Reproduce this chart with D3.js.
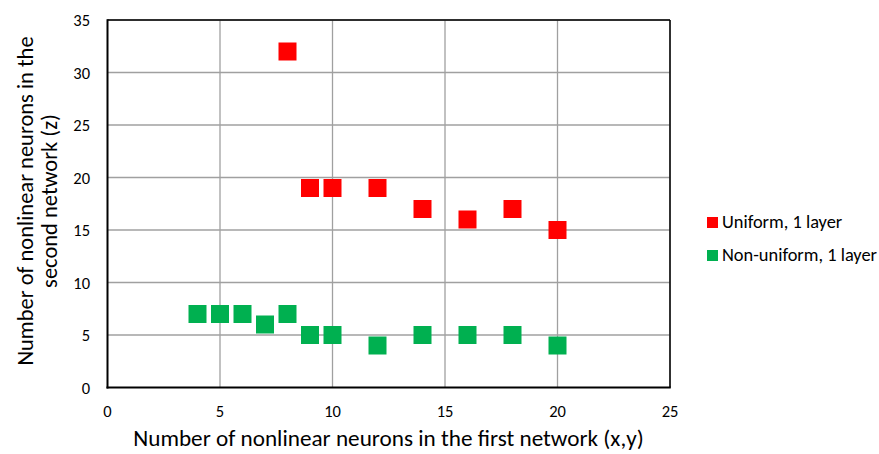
<!DOCTYPE html>
<html><head><meta charset="utf-8">
<script src="https://cdn.jsdelivr.net/npm/d3@7"></script>
<style>body{margin:0;background:#fff}svg{display:block}text{font-family:Carlito,Calibri,Lato,sans-serif;fill:#000}</style>
</head><body>
<script>
const uniformX=[8,9,10,12,14,16,18,20];
const uniformY=[32,19,19,19,17,16,17,15];
const nonUniformX=[4,5,6,7,8,9,10,12,14,16,18,20];
const nonUniformY=[7,7,7,6,7,5,5,4,5,5,5,4];
const xTicks=[0,5,10,15,20,25];
const yTicks=[0,5,10,15,20,25,30,35];
const seriesNames=["Uniform, 1 layer","Non-uniform, 1 layer"];
const colors=["#ff0000","#00b050"];

const W=879,H=454;
const svg=d3.select("body").append("svg").attr("width",W).attr("height",H);
const x=d3.scaleLinear().domain([0,25]).range([107.5,670]);
const y=d3.scaleLinear().domain([0,35]).range([387.5,20]);

const g=svg.append("g");
g.selectAll(".vg").data(xTicks.slice(1)).join("line")
 .attr("x1",d=>x(d)).attr("x2",d=>x(d)).attr("y1",y(35)).attr("y2",y(0))
 .attr("stroke","#a0a0a0").attr("stroke-width",1.3);
g.selectAll(".hg").data(yTicks.slice(1)).join("line")
 .attr("x1",x(0)).attr("x2",x(25)).attr("y1",d=>y(d)).attr("y2",d=>y(d))
 .attr("stroke","#a0a0a0").attr("stroke-width",1.3);
g.append("line").attr("x1",x(0)).attr("x2",x(25)).attr("y1",y(35)).attr("y2",y(35)).attr("stroke","#000").attr("stroke-width",1.5);
g.append("line").attr("x1",x(25)).attr("x2",x(25)).attr("y1",y(35)).attr("y2",y(0)).attr("stroke","#000").attr("stroke-width",1.5);
g.append("line").attr("x1",x(0)).attr("x2",x(0)).attr("y1",y(35)-0.75).attr("y2",y(0)+1).attr("stroke","#000").attr("stroke-width",2);
g.append("line").attr("x1",x(0)-1).attr("x2",x(25)+0.75).attr("y1",y(0)).attr("y2",y(0)).attr("stroke","#000").attr("stroke-width",2);

svg.selectAll(".xt").data(xTicks).join("text")
 .attr("x",d=>x(d)).attr("y",417).attr("text-anchor","middle").attr("font-size",16.5).text(d=>d);
svg.selectAll(".yt").data(yTicks).join("text")
 .attr("x",90).attr("y",d=>y(d)+6).attr("text-anchor","end").attr("font-size",16.5).text(d=>d);

const s=18;
const draw=(xs,ys,c)=>svg.append("g").selectAll("rect").data(xs.map((d,i)=>[d,ys[i]])).join("rect")
 .attr("x",d=>x(d[0])-s/2).attr("y",d=>y(d[1])-s/2).attr("width",s).attr("height",s)
 .attr("fill",c);
draw(uniformX,uniformY,colors[0]);
draw(nonUniformX,nonUniformY,colors[1]);

svg.append("text").attr("x",388.5).attr("y",446).attr("text-anchor","middle").attr("font-size",23.2)
 .text("Number of nonlinear neurons in the first network (x,y)");
const yt=svg.append("text").attr("transform","translate(0,201) rotate(-90)").attr("text-anchor","middle").attr("font-size",22.5);
yt.append("tspan").attr("x",0).attr("y",33).text("Number of nonlinear neurons in the");
yt.append("tspan").attr("x",0).attr("y",57).text("second network (z)");

const lg=svg.append("g");
seriesNames.forEach((n,i)=>{
 lg.append("rect").attr("x",707).attr("y",217+i*33).attr("width",11).attr("height",11).attr("fill",colors[i]);
 lg.append("text").attr("x",722).attr("y",228+i*33).attr("font-size",18.4).text(n);
});
</script>
</body></html>
